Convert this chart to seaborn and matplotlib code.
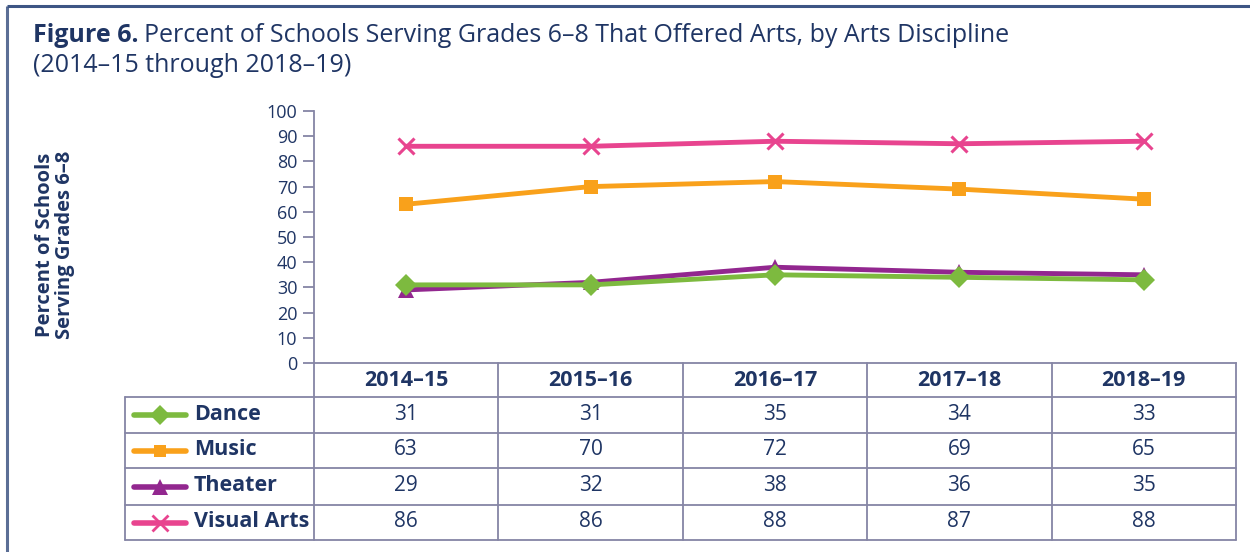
import matplotlib
matplotlib.use("Agg")
import matplotlib.pyplot as plt
import matplotlib.transforms as mtransforms
import seaborn as sns
import pandas as pd

years = ["2014-15", "2015-16", "2016-17", "2017-18", "2018-19"]
dance = [31, 31, 35, 34, 33]
music = [63, 70, 72, 69, 65]
theater = [29, 32, 38, 36, 35]
visual_arts = [86, 86, 88, 87, 88]
series_names = ["Dance", "Music", "Theater", "Visual Arts"]
series_values = [dance, music, theater, visual_arts]
yticks = [0, 10, 20, 30, 40, 50, 60, 70, 80, 90, 100]

colors = {"Dance": "#7dba3f", "Music": "#f9a11b", "Theater": "#92278f", "Visual Arts": "#e8448f"}
markers = {"Dance": "D", "Music": "s", "Theater": "^", "Visual Arts": "x"}
msizes = {"Dance": 11, "Music": 10, "Theater": 12, "Visual Arts": 12}

sns.set_theme(style="white")
plt.rcParams["font.family"] = ["Open Sans", "DejaVu Sans"]

navy = "#1f3564"
gridc = "#8585a5"

rows = []
for name, vals in zip(series_names, series_values):
    for i, (y, v) in enumerate(zip(years, vals)):
        rows.append({"idx": i, "year": y, "series": name, "value": v})
df = pd.DataFrame(rows)

fig = plt.figure(figsize=(12.5, 5.52), dpi=100)
W, H = 1250, 552
ax = fig.add_axes([314 / W, (H - 363) / H, (1236 - 314) / W, (363 - 111) / H])

for name in series_names:
    sub = df[df["series"] == name]
    sns.lineplot(data=sub, x="idx", y="value", ax=ax, color=colors[name], lw=3.5,
                 marker=markers[name], markersize=msizes[name],
                 markeredgewidth=2.2 if name == "Visual Arts" else 0,
                 markeredgecolor=colors[name], legend=False, zorder=3 if name != "Theater" else 2)

ax.set_xlim(-0.5, 4.5)
ax.set_ylim(0, 100)
ax.set_yticks(yticks)
ax.set_yticklabels([str(t) for t in yticks], fontsize=13, color=navy)
ax.set_xticks([])
ax.set_xlabel("")
ax.set_ylabel("")
for s in ["top", "right"]:
    ax.spines[s].set_visible(False)
for s in ["left", "bottom"]:
    ax.spines[s].set_color(gridc)
    ax.spines[s].set_linewidth(1.3)
ax.tick_params(axis="y", direction="out", length=8, width=1.3, color=gridc, pad=4, left=True)

ov = fig.add_axes([0, 0, 1, 1], facecolor="none")
ov.set_xlim(0, W)
ov.set_ylim(H, 0)
ov.axis("off")
tr = mtransforms.blended_transform_factory(ax.transData, ov.transData)

ov.plot([7, 7], [6, H], color="#5b6e95", lw=2.2, solid_capstyle="butt")
ov.plot([7, W], [6, 6], color="#3d5584", lw=2.2, solid_capstyle="butt")

t1 = ov.text(33, 36, "Figure 6.", fontsize=18, fontweight="bold", color=navy, va="center")
fig.canvas.draw()
bb = t1.get_window_extent()
ov.text(33 + bb.width + 5, 36, "Percent of Schools Serving Grades 6\u20138 That Offered Arts, by Arts Discipline",
        fontsize=18, color=navy, va="center")
ov.text(33, 65, "(2014\u201315 through 2018\u201319)", fontsize=18, color=navy, va="center")

ov.text(55, 245, "Percent of Schools\nServing Grades 6\u20138", rotation=90, fontsize=14.5,
        fontweight="bold", color=navy, ha="center", va="center", linespacing=1.0)

row_edges = [363, 397, 433, 468, 505, 540]
left_x, right_x = 125, 1236
col_edges = [-0.5, 0.5, 1.5, 2.5, 3.5, 4.5]
lc = gridc
for yv in row_edges[1:]:
    ov.plot([left_x, right_x], [yv, yv], color=lc, lw=1.3)
ov.plot([left_x, left_x], [row_edges[1], row_edges[-1]], color=lc, lw=1.3)
for ce in col_edges:
    ov.plot([ce, ce], [row_edges[0], row_edges[-1]], color=lc, lw=1.3, transform=tr)

for i, y in enumerate(years):
    ov.text(i, (row_edges[0] + row_edges[1]) / 2, y.replace("-", "\u2013"), transform=tr,
            ha="center", va="center", fontsize=15.5, fontweight="bold", color=navy)

for r, (name, vals) in enumerate(zip(series_names, series_values)):
    yc = (row_edges[r + 1] + row_edges[r + 2]) / 2
    ov.plot([134, 186], [yc, yc], color=colors[name], lw=4, solid_capstyle="round")
    ov.plot([160], [yc], marker=markers[name], color=colors[name], markersize=msizes[name] - 1,
            markeredgewidth=2 if name == "Visual Arts" else 0, markeredgecolor=colors[name])
    ov.text(194, yc - 1, name, fontsize=15.5, fontweight="bold", color=navy, va="center", ha="left")
    for i, v in enumerate(vals):
        ov.text(i, yc - 1, str(v), transform=tr, ha="center", va="center", fontsize=15, color=navy)

fig.savefig("out.png", dpi=100, facecolor="white")
